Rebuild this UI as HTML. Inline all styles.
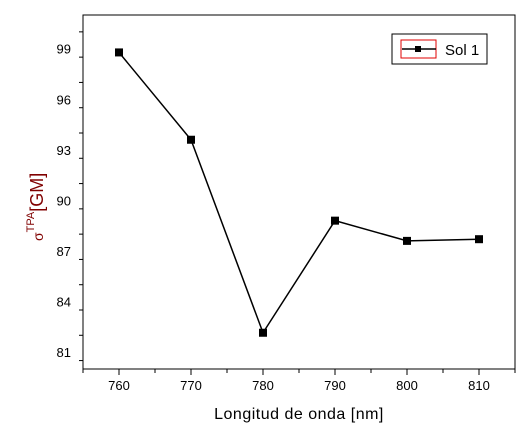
<!DOCTYPE html>
<html><head><meta charset="utf-8"><style>
body{margin:0;background:#fff;}
svg text{font-family:"Liberation Sans",sans-serif;}
</style></head><body>
<svg id="chart" width="526" height="432" xmlns="http://www.w3.org/2000/svg">
<rect x="0" y="0" width="526" height="432" fill="#fff"/>
<g id="plot"></g>
</svg>
<script>
const categories=[760,770,780,790,800,810];
const values=[98.78,93.6,82.15,88.8,87.6,87.7];
const xTicks=[760,770,780,790,800,810];
const yTicks=[81,84,87,90,93,96,99];
const L=83,R=515,T=15,B=369;
const xMin=755,xMax=815,yMin=80,yMax=101;
const xs=v=>L+(v-xMin)/(xMax-xMin)*(R-L);
const ys=v=>B-(v-yMin)/(yMax-yMin)*(B-T);
const g=document.getElementById('plot');
const NS='http://www.w3.org/2000/svg';
function mk(t,a,p){const e=document.createElementNS(NS,t);for(const k in a)e.setAttribute(k,a[k]);(p||g).appendChild(e);return e;}
const frame=mk('rect',{x:L,y:T,width:R-L,height:B-T,fill:'none',stroke:'#000','stroke-width':1});


for(let v=xMin;v<=xMax;v+=5){
  const major=xTicks.includes(v);
  const t=mk('line',{x1:xs(v),x2:xs(v),y1:B,y2:B+(major?6:4),stroke:'#000'});
  
  
}
xTicks.forEach(v=>{const t=mk('text',{x:xs(v),y:B+21,'text-anchor':'middle','font-size':13,fill:'#000'});t.textContent=v;

});
for(let v=yMin+0.5;v<=yMax;v+=1.5){
  const major=yTicks.includes(v);
  const t=mk('line',{x1:L,x2:L-(major?6:4),y1:ys(v),y2:ys(v),stroke:'#000'});
  
  
}
yTicks.forEach(v=>{const t=mk('text',{x:L-12,y:ys(v)+5,'text-anchor':'end','font-size':13,fill:'#000'});t.textContent=v;

});
const pts=categories.map((c,i)=>xs(c)+','+ys(values[i])).join(' ');
const line=mk('polyline',{points:pts,fill:'none',stroke:'#000','stroke-width':1.5});


categories.forEach((c,i)=>{const r=mk('rect',{x:xs(c)-4,y:ys(values[i])-4,width:8,height:8,fill:'#000'});

});
const xt=mk('text',{x:299,y:419,'text-anchor':'middle','font-size':16,fill:'#000','letter-spacing':'0.5'});xt.textContent='Longitud de onda [nm]';


const yt=mk('text',{transform:'translate(43,241) rotate(-90)','font-size':18,fill:'#800000'});
yt.innerHTML='<tspan font-size="14">σ</tspan><tspan font-size="11" dy="-9">TPA</tspan><tspan dy="9">[GM]</tspan>';


const lg=mk('g',{});


mk('rect',{x:392,y:34,width:95,height:30,fill:'#fff',stroke:'#000'},lg);
mk('rect',{x:401,y:40,width:35,height:18,fill:'none',stroke:'#e00000'},lg);
mk('line',{x1:402,x2:436,y1:49,y2:49,stroke:'#000','stroke-width':1.5},lg);
mk('rect',{x:415,y:46,width:6,height:6,fill:'#000'},lg);
const lt=mk('text',{x:445,y:55,'font-size':15,fill:'#000'},lg);lt.textContent='Sol 1';


</script>
</body></html>
